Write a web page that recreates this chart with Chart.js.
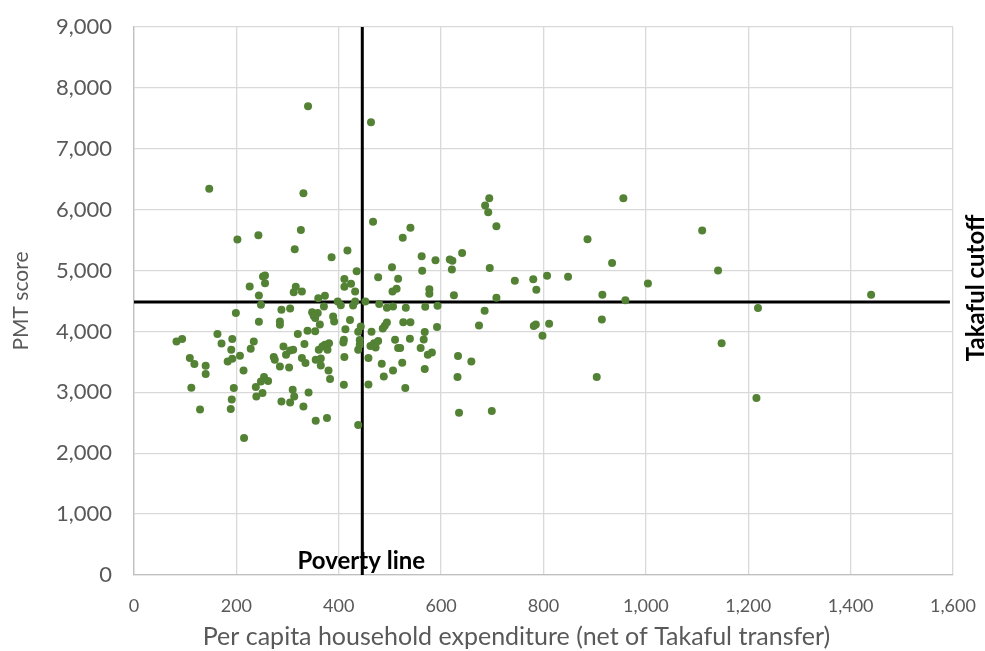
<!DOCTYPE html>
<html>
<head>
<meta charset="utf-8">
<script src="https://cdn.jsdelivr.net/npm/chart.js@4.4.1/dist/chart.umd.min.js"></script>
<style>
  html, body { margin: 0; padding: 0; background: #ffffff; }
  #wrap { width: 985px; height: 651px; position: relative; }
</style>
</head>
<body>
<div id="wrap"><canvas id="c" width="985" height="651"></canvas></div>
<script>
// Per capita household expenditure (x) and PMT score (y)
const expenditure = [
  340, 463, 147, 331, 202, 243, 326, 314, 386, 417, 435, 467, 540, 525, 562, 589, 563, 504, 477, 516,
  505, 513, 577, 577, 252, 256, 256, 226, 244, 316, 312, 328, 411, 411, 424, 432, 360, 373, 248, 288,
  305, 348, 371, 398, 404, 428, 432, 452, 479, 494, 506, 531, 569, 593, 694, 686, 692, 708, 956, 1110,
  886, 934, 641, 617, 622, 621, 695, 625, 708, 744, 780, 786, 807, 848, 915, 960, 1004, 1141, 685, 1440,
  1219, 1148, 1216, 781, 785, 811, 798, 914, 904, 526, 540, 592, 674, 568, 539, 566, 520, 560, 574, 582,
  633, 659, 524, 568, 632, 530, 635, 699, 285, 285, 359, 351, 354, 389, 391, 363, 422, 443, 438, 413,
  339, 354, 320, 464, 486, 494, 490, 292, 297, 311, 305, 273, 275, 333, 361, 368, 373, 381, 378, 410,
  409, 438, 441, 441, 462, 469, 477, 472, 458, 510, 516, 328, 335, 355, 365, 365, 285, 303, 380, 383,
  411, 484, 506, 488, 410, 458, 262, 310, 313, 341, 288, 305, 331, 355, 377, 438, 199, 244, 83, 94,
  163, 171, 192, 190, 234, 228, 207, 192, 183, 109, 118, 140, 140, 214, 254, 248, 238, 251, 239, 112,
  195, 191, 189, 129, 215
];
const pmtScore = [
  7700, 7435, 6345, 6270, 5510, 5580, 5668, 5350, 5220, 5330, 4990, 5800, 5705, 5540, 5236, 5170, 4995, 5055, 4890, 4865,
  4655, 4700, 4695, 4618, 4903, 4918, 4793, 4738, 4590, 4733, 4645, 4656, 4860, 4733, 4782, 4655, 4547, 4585, 4437, 4355,
  4377, 4314, 4410, 4491, 4432, 4426, 4491, 4491, 4449, 4388, 4410, 4388, 4405, 4420, 6188, 6067, 5958, 5728, 6188, 5656,
  5515, 5126, 5290, 5180, 5160, 5017, 5040, 4596, 4552, 4831, 4858, 4683, 4913, 4897, 4601, 4514, 4787, 5000, 4340, 4601,
  4383, 3808, 2906, 4088, 4114, 4125, 3929, 4196, 3251, 4153, 4153, 4071, 4098, 3989, 3880, 3868, 3727, 3727, 3617, 3655,
  3595, 3507, 3485, 3382, 3251, 3070, 2665, 2693, 4163, 4109, 4301, 4257, 4219, 4245, 4163, 4114, 4186, 4081, 3994, 4038,
  4010, 4005, 3956, 3994, 4049, 4147, 4092, 3753, 3617, 3699, 3688, 3579, 3535, 3792, 3699, 3753, 3781, 3808, 3699, 3863,
  3819, 3699, 3780, 3860, 3760, 3805, 3845, 3735, 3562, 3863, 3727, 3562, 3480, 3535, 3556, 3441, 3425, 3408, 3359, 3218,
  3579, 3469, 3359, 3261, 3124, 3130, 3185, 3042, 2933, 2998, 2851, 2834, 2768, 2534, 2578, 2463, 4301, 4158, 3835, 3874,
  3956, 3802, 3874, 3699, 3835, 3715, 3600, 3551, 3507, 3562, 3464, 3436, 3300, 3359, 3251, 3179, 3087, 2988, 2933, 3075,
  3070, 2883, 2725, 2719, 2250
];
const povertyLine = 446;
const takafulCutoff = 4485;
const xRange = [0, 1600];
const yRange = [0, 9000];
const xStep = 200;
const yStep = 1000;
const xTitle = 'Per capita household expenditure (net of Takaful transfer)';
const yTitle = 'PMT score';
const povertyLabel = 'Poverty line';
const cutoffLabel = 'Takaful cutoff';

const points = expenditure.map((x, i) => ({ x: x, y: pmtScore[i] }));
const fmt = v => Number(v).toLocaleString('en-US');
const FONT = 'Lato, "Open Sans", sans-serif';

const labelPlugin = {
  id: 'refLabels',
  afterDatasetsDraw(chart) {
    const ctx = chart.ctx;
    const xs = chart.scales.x, ys = chart.scales.y, ca = chart.chartArea;
    ctx.save();
    // x-axis title (slightly left of the plot centre, as in the original)
    ctx.fillStyle = '#595959';
    ctx.font = '25px ' + FONT;
    ctx.textAlign = 'center';
    ctx.textBaseline = 'middle';
    ctx.fillText(xTitle, (ca.left + ca.right) / 2 - 27, ca.bottom + 62);
    // reference line labels
    ctx.fillStyle = '#000000';
    ctx.font = 'bold 24px ' + FONT;
    ctx.fillText(povertyLabel, xs.getPixelForValue(povertyLine) - 1, ca.bottom - 14);
    ctx.translate(ca.right + 23, ys.getPixelForValue(takafulCutoff) - 14);
    ctx.rotate(-Math.PI / 2);
    ctx.fillText(cutoffLabel, 0, 0);
    ctx.restore();
  }
};

new Chart(document.getElementById('c'), {
  type: 'scatter',
  data: {
    datasets: [
      {
        label: 'Households',
        data: points,
        backgroundColor: '#548235',
        borderColor: '#548235',
        borderWidth: 0,
        pointRadius: 4,
        pointHoverRadius: 4,
        order: 0
      },
      {
        label: 'Poverty line',
        data: [{ x: povertyLine, y: yRange[0] }, { x: povertyLine, y: yRange[1] }],
        showLine: true,
        borderColor: '#000000',
        borderWidth: 3,
        pointRadius: 0,
        order: 1
      },
      {
        label: 'Takaful cutoff',
        data: [{ x: xRange[0], y: takafulCutoff }, { x: 1594, y: takafulCutoff }],
        showLine: true,
        borderColor: '#000000',
        borderWidth: 3,
        pointRadius: 0,
        order: 1
      }
    ]
  },
  options: {
    responsive: false,
    animation: false,
    events: [],
    layout: { padding: { left: 0, right: 32, top: 27, bottom: 0 } },
    plugins: {
      legend: { display: false },
      tooltip: { enabled: false }
    },
    scales: {
      x: {
        type: 'linear',
        min: xRange[0], max: xRange[1],
        ticks: {
          stepSize: xStep,
          padding: 20,
          color: '#595959',
          font: { family: FONT, size: 18 },
          callback: v => fmt(v),
          maxRotation: 0
        },
        grid: { color: '#d9d9d9', lineWidth: 1.3, drawTicks: false },
        border: { color: '#bfbfbf', width: 1.3 },
        title: { display: false },
        afterFit: s => { s.height = 76; s.paddingLeft = 0; s.paddingRight = 0; }
      },
      y: {
        type: 'linear',
        min: yRange[0], max: yRange[1],
        ticks: {
          stepSize: yStep,
          padding: 22,
          color: '#595959',
          font: { family: FONT, size: 22 },
          callback: v => fmt(v)
        },
        grid: { color: '#d9d9d9', lineWidth: 1.3, drawTicks: false },
        border: { color: '#bfbfbf', width: 1.3 },
        title: {
          display: true, text: yTitle, color: '#595959',
          font: { family: FONT, size: 21 },
          padding: { top: 9, bottom: 0 }
        },
        afterFit: s => { s.width = 134; s.paddingTop = 0; s.paddingBottom = 0; }
      }
    }
  },
  plugins: [labelPlugin]
});
</script>
</body>
</html>
